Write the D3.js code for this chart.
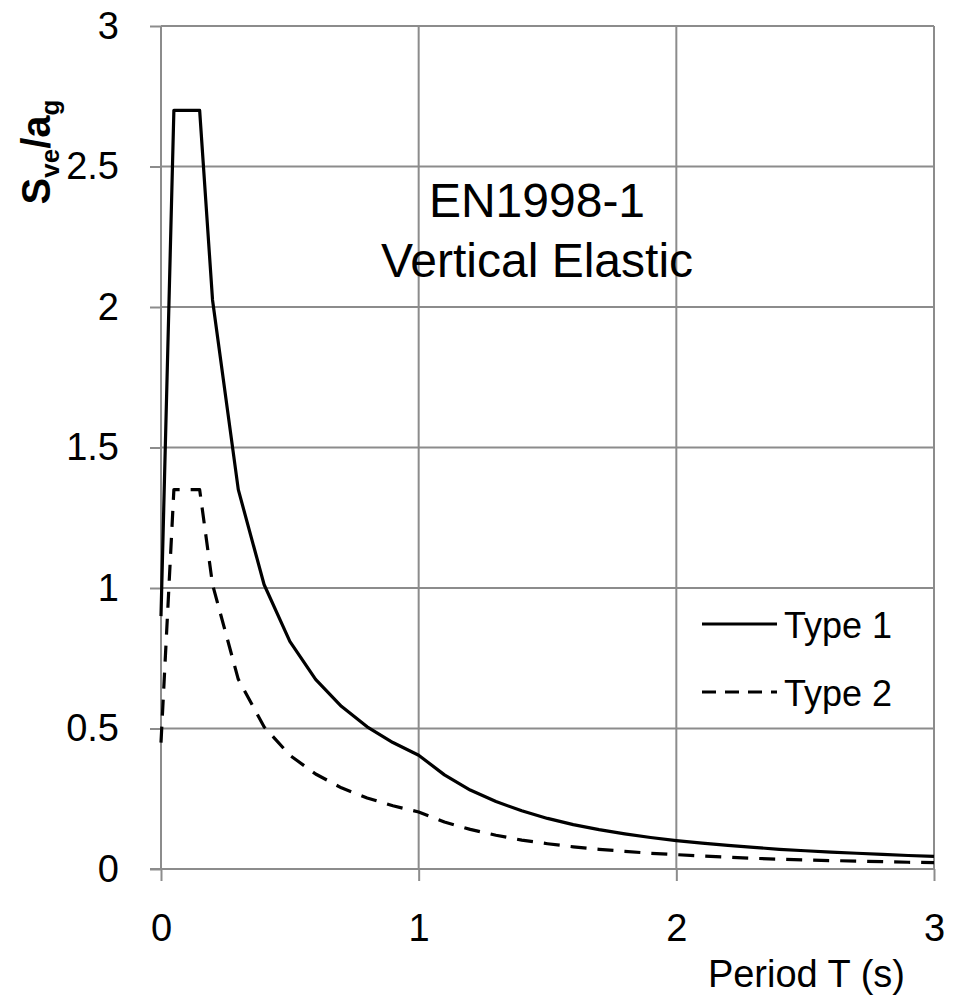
<!DOCTYPE html>
<html>
<head>
<meta charset="utf-8">
<script src="https://cdn.jsdelivr.net/npm/d3@7"></script>
<style>
    body { margin: 0; background: #fff; }
    svg text { font-family: Arial, "Liberation Sans", sans-serif; fill: #000; }
</style>
</head>
<body>
<svg id="chart" width="954" height="996"></svg>
<script>
// Period T (s) of the plotted points
const period = [0, 0.05, 0.15, 0.2, 0.3, 0.4, 0.5, 0.6, 0.7, 0.8, 0.9, 1.0,
    1.1, 1.2, 1.3, 1.4, 1.5, 1.6, 1.7, 1.8, 1.9, 2.0,
    2.1, 2.2, 2.3, 2.4, 2.5, 2.6, 2.7, 2.8, 2.9, 3.0];

// Sve/ag
const type1 = [0.9, 2.7, 2.7, 2.025, 1.35, 1.0125, 0.81, 0.675, 0.579, 0.506, 0.45, 0.405,
    0.335, 0.281, 0.240, 0.207, 0.18, 0.158, 0.140, 0.125, 0.112, 0.101,
    0.092, 0.084, 0.077, 0.070, 0.065, 0.060, 0.056, 0.052, 0.048, 0.045];
const type2 = [0.45, 1.35, 1.35, 1.0125, 0.675, 0.506, 0.405, 0.338, 0.289, 0.253, 0.225, 0.203,
    0.167, 0.141, 0.120, 0.103, 0.09, 0.079, 0.070, 0.063, 0.056, 0.051,
    0.046, 0.042, 0.038, 0.035, 0.032, 0.030, 0.028, 0.026, 0.024, 0.0225];

const xTicks = [0, 1, 2, 3];
const yTicks = [0, 0.5, 1, 1.5, 2, 2.5, 3];
const seriesNames = ["Type 1", "Type 2"];

const svg = d3.select("#chart");
const grid_color = "#8c8c8c";

let x = d3.scaleLinear().domain([0, 3]).range([161, 934]);
let y = d3.scaleLinear().domain([0, 3]).range([869, 26]);

// gridlines
let grid = svg.append("g").attr("class", "grid");
grid.selectAll("line.h").data(yTicks.filter(d => d > 0)).enter()
    .append("line")
    .attr("x1", x(0)).attr("x2", x(3))
    .attr("y1", d => y(d)).attr("y2", d => y(d))
    .attr("stroke", grid_color).attr("stroke-width", 2);
grid.selectAll("line.v").data(xTicks.filter(d => d > 0)).enter()
    .append("line")
    .attr("x1", d => x(d)).attr("x2", d => x(d))
    .attr("y1", y(0)).attr("y2", y(3))
    .attr("stroke", grid_color).attr("stroke-width", 2);

// axes
let y_axis = svg.append("g")
    .attr("transform", "translate(" + x(0) + ",0)")
    .call(d3.axisLeft(y).tickValues(yTicks).tickSize(11).tickPadding(31)
        .tickFormat(d3.format("")));
let x_axis = svg.append("g")
    .attr("transform", "translate(0," + y(0) + ")")
    .call(d3.axisBottom(x).tickValues(xTicks).tickSize(12).tickPadding(33)
        .tickFormat(d3.format("")));

[y_axis, x_axis].forEach(a => {
    a.select(".domain").attr("stroke", grid_color).attr("stroke-width", 2);
    a.selectAll(".tick line").attr("stroke", grid_color).attr("stroke-width", 2);
    a.selectAll(".tick text")
        .attr("fill", "#000")
        .style("font-size", "38px")
        .style("font-family", "Arial, 'Liberation Sans', sans-serif");
});
y_axis.select(".domain").attr("d", "M0," + y(3) + "V" + y(0));
x_axis.select(".domain").attr("d", "M" + (x(0) - 11) + ",0H" + x(3));
x_axis.selectAll(".tick text").attr("dy", "0.71em").attr("y", 45);

// lines
let line_gen = d3.line().x(d => x(d[0])).y(d => y(d[1]));
let series = [
    { name: seriesNames[0], values: d3.zip(period, type1), dash: null },
    { name: seriesNames[1], values: d3.zip(period, type2), dash: "16,11" },
];
svg.append("g").selectAll("path").data(series).enter()
    .append("path")
    .attr("d", d => line_gen(d.values))
    .attr("fill", "none")
    .attr("stroke", "#000")
    .attr("stroke-width", 3.2)
    .attr("stroke-linejoin", "round")
    .attr("stroke-dasharray", d => d.dash);

// legend
let legend = svg.append("g").selectAll("g").data(series).enter()
    .append("g")
    .attr("transform", (d, i) => "translate(702," + (624 + i * 68) + ")");
legend.append("line")
    .attr("x1", 0).attr("x2", 75)
    .attr("stroke", "#000").attr("stroke-width", 3.2)
    .attr("stroke-dasharray", d => d.dash ? "14,9" : null);
legend.append("text")
    .attr("x", 82).attr("y", 14)
    .style("font-size", "36px")
    .text(d => d.name);

// title inside the plot
let title = svg.append("text")
    .attr("x", 537).attr("y", 217)
    .attr("text-anchor", "middle")
    .style("font-size", "48px");
title.append("tspan").attr("x", 537).text("EN1998-1");
title.append("tspan").attr("x", 537).attr("dy", 60).text("Vertical Elastic");

// axis titles
svg.append("text")
    .attr("x", 905).attr("y", 987)
    .attr("text-anchor", "end")
    .style("font-size", "38px")
    .text("Period T (s)");

let y_title = svg.append("text")
    .attr("transform", "translate(50,152) rotate(-90)")
    .attr("text-anchor", "middle")
    .style("font-size", "40px")
    .style("font-weight", "bold");
y_title.append("tspan").text("S");
y_title.append("tspan").attr("dy", 9).style("font-size", "26px").text("ve");
y_title.append("tspan").attr("dy", -9).text("/a");
y_title.append("tspan").attr("dy", 9).style("font-size", "26px").text("g");
</script>
</body>
</html>
